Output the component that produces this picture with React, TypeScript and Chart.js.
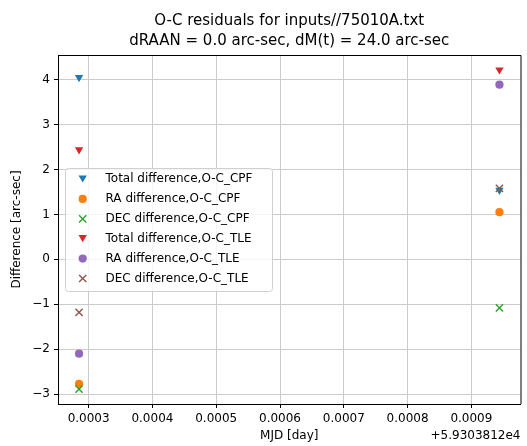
import React, { useEffect, useRef } from "react";
import { Chart, registerables } from "chart.js";

Chart.register(...registerables);

// MJD offsets from +5.9303812e4 (day)
const times = [0.000285, 0.000944];

// residuals in arc-sec
const totalCpf = [4.05, 1.54];
const raCpf = [-2.77, 1.05];
const decCpf = [-2.89, -1.08];
const totalTle = [2.44, 4.22];
const raTle = [-2.1, 3.89];
const decTle = [-1.18, 1.58];

const seriesLabels = [
  "Total difference,O-C_CPF",
  "RA difference,O-C_CPF",
  "DEC difference,O-C_CPF",
  "Total difference,O-C_TLE",
  "RA difference,O-C_TLE",
  "DEC difference,O-C_TLE",
];
const seriesValues = [totalCpf, raCpf, decCpf, totalTle, raTle, decTle];
const seriesColors = ["#1f77b4", "#ff7f0e", "#2ca02c", "#d62728", "#9467bd", "#8c564b"];
const seriesMarkers = ["tri", "dot", "x", "tri", "dot", "x"];

const titleLines = ["O-C residuals for inputs//75010A.txt", "dRAAN = 0.0 arc-sec, dM(t) = 24.0 arc-sec"];
const xTitle = "MJD [day]";
const yTitle = "Difference [arc-sec]";
const xOffsetText = "+5.9303812e4";

const FONT = "'DejaVu Sans', sans-serif";

const TRI_R = 4.8;
const DOT_R = 4.1;
const X_R = 5.1;

function drawMarker(ctx: CanvasRenderingContext2D, kind: string, color: string, x: number, y: number) {
  ctx.save();
  if (kind === "tri") {
    const r = TRI_R;
    ctx.fillStyle = color;
    ctx.beginPath();
    ctx.moveTo(x, y + r * 0.75);
    ctx.lineTo(x - r * 0.866, y - r * 0.75);
    ctx.lineTo(x + r * 0.866, y - r * 0.75);
    ctx.closePath();
    ctx.fill();
  } else if (kind === "dot") {
    ctx.fillStyle = color;
    ctx.beginPath();
    ctx.arc(x, y, DOT_R, 0, Math.PI * 2);
    ctx.fill();
  } else {
    const d = X_R * 0.707;
    ctx.strokeStyle = color;
    ctx.lineWidth = 1.4;
    ctx.beginPath();
    ctx.moveTo(x - d, y - d);
    ctx.lineTo(x + d, y + d);
    ctx.moveTo(x - d, y + d);
    ctx.lineTo(x + d, y - d);
    ctx.stroke();
  }
  ctx.restore();
}

const decorPlugin = {
  id: "decor",
  afterDatasetsDraw(chart: any) {
    const ctx: CanvasRenderingContext2D = chart.ctx;
    const area = chart.chartArea;
    // top and right spines
    ctx.save();
    ctx.strokeStyle = "#000";
    ctx.lineWidth = 1;
    ctx.beginPath();
    ctx.moveTo(area.left, area.top + 0.5);
    ctx.lineTo(area.right + 0.5, area.top + 0.5);
    ctx.lineTo(area.right + 0.5, area.bottom);
    ctx.stroke();

    // legend box
    const bx = 65.5, by = 168.5, bw = 207, bh = 123, rr = 3;
    ctx.beginPath();
    ctx.moveTo(bx + rr, by);
    ctx.lineTo(bx + bw - rr, by);
    ctx.quadraticCurveTo(bx + bw, by, bx + bw, by + rr);
    ctx.lineTo(bx + bw, by + bh - rr);
    ctx.quadraticCurveTo(bx + bw, by + bh, bx + bw - rr, by + bh);
    ctx.lineTo(bx + rr, by + bh);
    ctx.quadraticCurveTo(bx, by + bh, bx, by + bh - rr);
    ctx.lineTo(bx, by + rr);
    ctx.quadraticCurveTo(bx, by, bx + rr, by);
    ctx.closePath();
    ctx.fillStyle = "rgba(255,255,255,0.8)";
    ctx.fill();
    ctx.strokeStyle = "#d0d0d0";
    ctx.stroke();

    ctx.font = `12px ${FONT}`;
    ctx.textBaseline = "middle";
    ctx.textAlign = "left";
    chart.data.datasets.forEach((ds: any, i: number) => {
      const y = 179 + i * 19.9;
      drawMarker(ctx, seriesMarkers[i], seriesColors[i], 82.7, y);
      ctx.fillStyle = "#000";
      ctx.fillText(ds.label, 105.5, y);
    });
    ctx.restore();
  },
  afterDraw(chart: any) {
    const ctx: CanvasRenderingContext2D = chart.ctx;
    const area = chart.chartArea;
    const cx = (area.left + area.right) / 2;
    ctx.save();
    ctx.fillStyle = "#000";
    ctx.textBaseline = "middle";
    ctx.textAlign = "center";
    ctx.font = `15px ${FONT}`;
    ctx.fillText(titleLines[0], cx, 21);
    ctx.fillText(titleLines[1], cx, 41);

    ctx.font = `12px ${FONT}`;
    ctx.fillText(xTitle, cx, 436);
    ctx.textAlign = "right";
    ctx.fillText(xOffsetText, area.right, 436);

    ctx.translate(17, (area.top + area.bottom) / 2);
    ctx.rotate(-Math.PI / 2);
    ctx.textAlign = "center";
    ctx.fillText(yTitle, 0, 0);
    ctx.restore();
  },
};

export default function App() {
  const canvasRef = useRef<HTMLCanvasElement | null>(null);

  useEffect(() => {
    document.body.style.margin = "0";
    const canvas = canvasRef.current;
    if (!canvas) return;

    const datasets = seriesLabels.map((label, i) => {
      const kind = seriesMarkers[i];
      return {
        label,
        data: times.map((t, j) => ({ x: t, y: seriesValues[i][j] })),
        order: seriesLabels.length - i,
        backgroundColor: seriesColors[i],
        borderColor: seriesColors[i],
        pointStyle: kind === "tri" ? "triangle" : kind === "dot" ? "circle" : "crossRot",
        rotation: kind === "tri" ? 180 : 0,
        pointRadius: kind === "tri" ? TRI_R : kind === "dot" ? DOT_R : X_R,
        borderWidth: kind === "x" ? 1.4 : 0,
        showLine: false,
      };
    });

    const chart = new Chart(canvas, {
      type: "scatter",
      data: { datasets } as any,
      options: {
        animation: false,
        responsive: false,
        devicePixelRatio: 1,
        layout: { padding: { top: 55, right: 4, left: 0, bottom: 0 } },
        plugins: {
          legend: { display: false },
          title: { display: false },
          tooltip: { enabled: false },
        },
        scales: {
          x: {
            type: "linear",
            min: 0.000252,
            max: 0.000977,
            afterFit: (scale: any) => {
              scale.height = 42;
            },
            grid: { color: "#cccccc", lineWidth: 1, tickColor: "#000", tickLength: 4 },
            border: { display: true, color: "#000", width: 1 },
            ticks: {
              stepSize: 0.0001,
              includeBounds: false,
              maxRotation: 0,
              autoSkip: false,
              padding: 4,
              color: "#000",
              font: { family: FONT, size: 12 },
              callback: (v: any) => Number(v).toFixed(4),
            },
          },
          y: {
            type: "linear",
            min: -3.22,
            max: 4.55,
            afterFit: (scale: any) => {
              scale.width = 58;
            },
            grid: { color: "#cccccc", lineWidth: 1, tickColor: "#000", tickLength: 4 },
            border: { display: true, color: "#000", width: 1 },
            ticks: {
              stepSize: 1,
              includeBounds: false,
              padding: 4,
              color: "#000",
              font: { family: FONT, size: 12 },
              callback: (v: any) => {
                const n = Math.round(Number(v));
                return n < 0 ? "\u2212" + Math.abs(n) : String(n);
              },
            },
          },
        },
      } as any,
      plugins: [decorPlugin],
    });

    return () => chart.destroy();
  }, []);

  return (
    <div style={{ width: 527, height: 446, background: "#fff" }}>
      <canvas ref={canvasRef} width={527} height={446} />
    </div>
  );
}
